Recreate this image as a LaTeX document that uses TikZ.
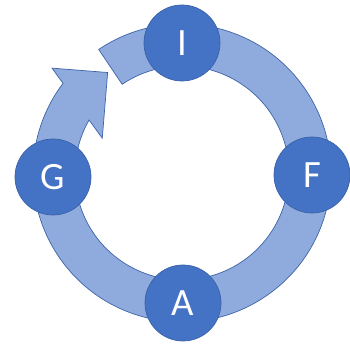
\documentclass[tikz,border=0pt]{standalone}
\usepackage{fontspec}
\setmainfont{Carlito}
\usepackage{xcolor}
\usepackage{tikz}
\usetikzlibrary{positioning}

\definecolor{ringfill}{HTML}{8FAADC}
\definecolor{ringline}{HTML}{3E64A8}
\definecolor{phasefill}{HTML}{4472C4}
\definecolor{phaseline}{HTML}{3A62A8}

\begin{document}
\begin{tikzpicture}[
      x=0.03cm, y=0.03cm,
      ring/.style={
          draw=ringline, fill=ringfill, line width=0.6pt,
          line join=miter
        },
      phase/.style={
          draw=phaseline, fill=phasefill, circle,
          minimum size=2.28cm, inner sep=0pt,
          text=white, font=\fontsize{33}{33}\selectfont,
          line width=0.6pt
        }
    ]

    \useasboundingbox (-182,-174) rectangle (168,173);

    % ── Cycle arrow (clockwise, head returns to the tail) ──
    \draw[ring] (124:149)
    arc[start angle=124, end angle=-217, radius=149]
    -- (141.1:167) -- (126.5:125) -- (156.4:87)
    -- (-209.7:107)
    arc[start angle=-209.7, end angle=124, radius=107]
    -- cycle;

    % ── Phases on the ring ──
    \node[phase] (iphase) at (0,130)   {I};
    \node[phase] (fphase) at (130,-2)  {F};
    \node[phase] (aphase) at (1,-130)  {A};
    \node[phase] (gphase) at (-129,-4) {G};

  \end{tikzpicture}
\end{document}
